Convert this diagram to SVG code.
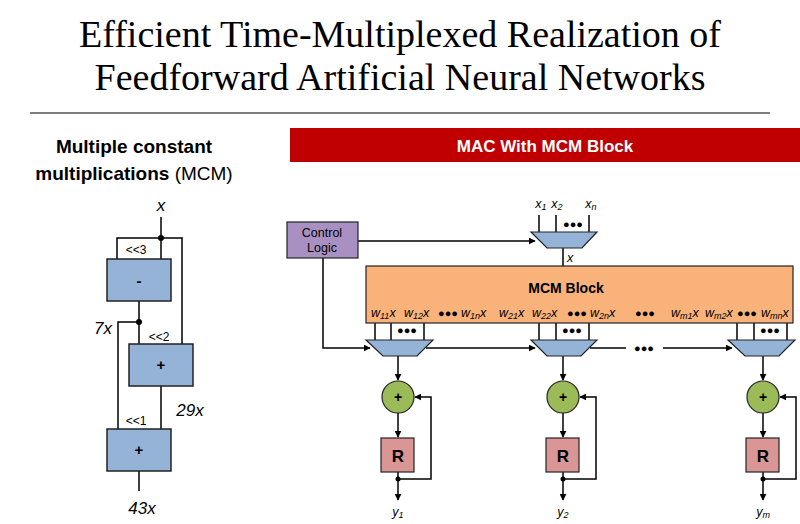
<svg xmlns="http://www.w3.org/2000/svg" width="800" height="524" viewBox="0 0 800 524">
<defs>
<style>
.w{stroke:#000;stroke-width:1.5;fill:none}
.blue{fill:#95b3d7;stroke:#222;stroke-width:1.5}
.s{font-family:"Liberation Sans",Arial,sans-serif}
.i{font-family:"Liberation Sans",Arial,sans-serif;font-style:italic}
.sm{font-size:12.5px}
.mux{fill:#95b3d7;stroke:#222;stroke-width:1.2}
.add{fill:#9bbb59;stroke:#222;stroke-width:1.2}
.reg{fill:#d99694;stroke:#222;stroke-width:1.2}
</style>
<marker id="a" viewBox="0 0 10 10" refX="9" refY="5" markerWidth="7" markerHeight="7" markerUnits="userSpaceOnUse" orient="auto"><path d="M0,0L10,5L0,10z" fill="#000"/></marker>
</defs>
<rect width="800" height="524" fill="#fff"/>
<text x="400" y="47" text-anchor="middle" font-family="Liberation Serif,serif" font-size="38">Efficient Time-Multiplexed Realization of</text>
<text x="400" y="90" text-anchor="middle" font-family="Liberation Serif,serif" font-size="38">Feedforward Artificial Neural Networks</text>
<line x1="30" y1="113" x2="770" y2="113" stroke="#000" stroke-width="1"/>
<text x="134" y="153" text-anchor="middle" class="s" font-size="19" font-weight="bold">Multiple constant</text>
<text x="134" y="180" text-anchor="middle" class="s" font-size="19"><tspan font-weight="bold">multiplications</tspan> (MCM)</text>
<rect x="290" y="128" width="510" height="34" fill="#c00000"/>
<text x="545" y="152" text-anchor="middle" class="s" font-size="17" font-weight="bold" fill="#fff">MAC With MCM Block</text>

<g id="connectors">
<path class="w" d="M161,217V259M117,259V238H182V344M139,301V322H118V429M139,322V344M161,386V429M139,471V491"/>
<circle cx="161" cy="238" r="3"/><circle cx="139" cy="322" r="3"/>
<path class="w" d="M358,241H535" marker-end="url(#a)"/>
<path class="w" d="M539,215V232M556,215V232M589,215V232M563,248V266"/>
<path class="w" d="M323,258V348H370" marker-end="url(#a)"/>
<path class="w" d="M426,348H535" marker-end="url(#a)"/>
<path class="w" d="M590,348H626M663,348H732" marker-end="url(#a)"/>
<path class="w" d="M375,323V340M391,323V340M424,323V340M539,323V340M556,323V340M589,323V340M737,323V340M754,323V340M787,323V340"/>
<g id="c1"><path class="w" d="M398,356V380" marker-end="url(#a)"/><path class="w" d="M398,413V437" marker-end="url(#a)"/><path class="w" d="M398,472V500" marker-end="url(#a)"/><path class="w" d="M398,479H431V397H415" marker-end="url(#a)"/><circle cx="398" cy="479" r="2.5"/></g>
<g><path class="w" d="M563,356V380" marker-end="url(#a)"/><path class="w" d="M563,413V437" marker-end="url(#a)"/><path class="w" d="M563,472V500" marker-end="url(#a)"/><path class="w" d="M563,479H596V397H580" marker-end="url(#a)"/><circle cx="563" cy="479" r="2.5"/></g>
<g><path class="w" d="M763,356V380" marker-end="url(#a)"/><path class="w" d="M763,413V437" marker-end="url(#a)"/><path class="w" d="M763,472V500" marker-end="url(#a)"/><path class="w" d="M763,479H796V397H780" marker-end="url(#a)"/><circle cx="763" cy="479" r="2.5"/></g>
</g>

<g id="mcm-left" class="s">
<text x="161" y="211" text-anchor="middle" class="i" font-size="17">x</text>
<text x="136" y="254" text-anchor="middle" font-size="12">&lt;&lt;3</text>
<g id="sub"><rect class="blue" x="107" y="259" width="64" height="42"/><text x="139" y="286" text-anchor="middle" font-weight="bold" font-size="15">-</text></g>
<text x="103" y="334" text-anchor="middle" class="i" font-size="17">7x</text>
<text x="159" y="341" text-anchor="middle" font-size="12">&lt;&lt;2</text>
<g id="add1"><rect class="blue" x="129" y="344" width="64" height="42"/><text x="161" y="370" text-anchor="middle" font-weight="bold" font-size="15">+</text></g>
<text x="190" y="416" text-anchor="middle" class="i" font-size="17">29x</text>
<text x="136" y="425" text-anchor="middle" font-size="12">&lt;&lt;1</text>
<g id="add2"><rect class="blue" x="107" y="429" width="64" height="42"/><text x="139" y="455" text-anchor="middle" font-weight="bold" font-size="15">+</text></g>
<text x="142" y="514" text-anchor="middle" class="i" font-size="17">43x</text>
</g>

<g id="control"><rect x="287" y="222" width="71" height="36" fill="#a891c2" stroke="#222" stroke-width="1.2"/><text x="322" y="237" text-anchor="middle" class="s sm">Control</text><text x="322" y="252" text-anchor="middle" class="s sm">Logic</text></g>
<g id="inmux"><path class="mux" d="M531,232H597L582,248H547Z"/>
<text x="541" y="208" text-anchor="middle" class="i sm">x<tspan font-size="9" dy="2">1</tspan></text>
<text x="557" y="208" text-anchor="middle" class="i sm">x<tspan font-size="9" dy="2">2</tspan></text>
<text x="591" y="208" text-anchor="middle" class="i sm">x<tspan font-size="9" dy="2">n</tspan></text>
<text x="573" y="228" text-anchor="middle" class="s" font-size="11">●●●</text>
<text x="570" y="262" text-anchor="middle" class="i sm">x</text></g>
<g id="mcm"><rect x="366" y="266" width="427" height="57" fill="#f9b27a" stroke="#222" stroke-width="1.2"/>
<text x="566" y="293" text-anchor="middle" class="s" font-size="14" font-weight="bold">MCM Block</text>
<g class="i sm">
<text x="371" y="317">w<tspan font-size="9" dy="2">11</tspan><tspan dy="-2">x</tspan></text>
<text x="404" y="317">w<tspan font-size="9" dy="2">12</tspan><tspan dy="-2">x</tspan></text>
<text x="461" y="317">w<tspan font-size="9" dy="2">1n</tspan><tspan dy="-2">x</tspan></text>
<text x="499" y="317">w<tspan font-size="9" dy="2">21</tspan><tspan dy="-2">x</tspan></text>
<text x="532" y="317">w<tspan font-size="9" dy="2">22</tspan><tspan dy="-2">x</tspan></text>
<text x="590" y="317">w<tspan font-size="9" dy="2">2n</tspan><tspan dy="-2">x</tspan></text>
<text x="671" y="317">w<tspan font-size="9" dy="2">m1</tspan><tspan dy="-2">x</tspan></text>
<text x="705" y="317">w<tspan font-size="9" dy="2">m2</tspan><tspan dy="-2">x</tspan></text>
<text x="761" y="317">w<tspan font-size="9" dy="2">mn</tspan><tspan dy="-2">x</tspan></text>
</g>
<g class="s" font-size="11" text-anchor="middle"><text x="448" y="317">●●●</text><text x="577" y="317">●●●</text><text x="645" y="317">●●●</text><text x="747" y="317">●●●</text></g>
</g>
<g class="s" font-size="11" text-anchor="middle"><text x="407" y="334">●●●</text><text x="572" y="334">●●●</text><text x="770" y="334">●●●</text><text x="644" y="352">●●●</text></g>
<g id="mux1"><path class="mux" d="M366,340H433L417,356H383Z"/></g>
<g id="mux2"><path class="mux" d="M531,340H597L581,356H547Z"/></g>
<g id="mux3"><path class="mux" d="M728,340H795L779,356H745Z"/></g>
<g id="acc1"><circle class="add" cx="398" cy="397" r="16"/><text x="398" y="402" text-anchor="middle" class="s" font-weight="bold" font-size="14">+</text><rect class="reg" x="381" y="438" width="33" height="34"/><text x="398" y="462" text-anchor="middle" class="s" font-weight="bold" font-size="17">R</text><text x="398" y="516" text-anchor="middle" class="i sm">y<tspan font-size="9" dy="2">1</tspan></text></g>
<g id="acc2"><circle class="add" cx="563" cy="397" r="16"/><text x="563" y="402" text-anchor="middle" class="s" font-weight="bold" font-size="14">+</text><rect class="reg" x="546" y="438" width="33" height="34"/><text x="563" y="462" text-anchor="middle" class="s" font-weight="bold" font-size="17">R</text><text x="563" y="516" text-anchor="middle" class="i sm">y<tspan font-size="9" dy="2">2</tspan></text></g>
<g id="acc3"><circle class="add" cx="763" cy="397" r="16"/><text x="763" y="402" text-anchor="middle" class="s" font-weight="bold" font-size="14">+</text><rect class="reg" x="746" y="438" width="33" height="34"/><text x="763" y="462" text-anchor="middle" class="s" font-weight="bold" font-size="17">R</text><text x="763" y="516" text-anchor="middle" class="i sm">y<tspan font-size="9" dy="2">m</tspan></text></g>
</svg>
